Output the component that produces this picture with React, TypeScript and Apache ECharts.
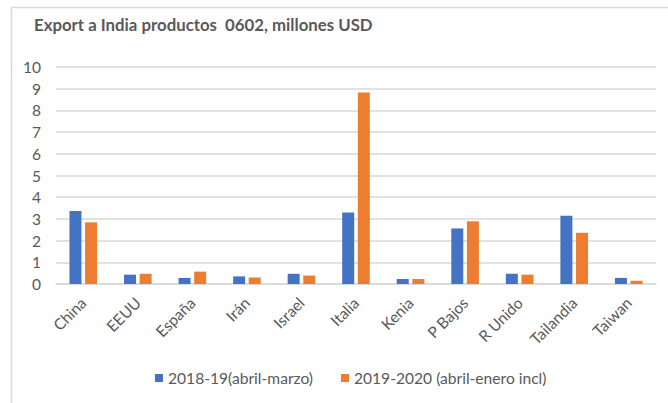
import React, { useEffect, useRef } from "react";
import * as echarts from "echarts";

const categories = ["China", "EEUU", "España", "Irán", "Israel", "Italia", "Kenia", "P Bajos", "R Unido", "Tailandia", "Taiwan"];
const series1Name = "2018-19(abril-marzo)";
const series2Name = "2019-2020 (abril-enero incl)";
const series1 = [3.36, 0.43, 0.28, 0.35, 0.47, 3.29, 0.23, 2.56, 0.47, 3.15, 0.28];
const series2 = [2.84, 0.47, 0.57, 0.3, 0.39, 8.82, 0.23, 2.89, 0.43, 2.36, 0.15];
const yTicks = [0, 10, 1];

const FONT = "Lato, 'Open Sans', sans-serif";
const TXT = "#595959";

export default function App() {
  const ref = useRef<HTMLDivElement>(null);
  useEffect(() => {
    if (!ref.current) return;
    const chart = echarts.init(ref.current, null, { renderer: "svg" });
    chart.setOption({
      animation: false,
      backgroundColor: "#ffffff",
      title: {
        text: "Export a India productos  0602, millones USD",
        left: 29,
        top: 11,
        textStyle: { color: TXT, fontFamily: FONT, fontSize: 16.8, fontWeight: "bold" },
      },
      graphic: [
        { type: "line", shape: { x1: 11.5, y1: 7.5, x2: 668, y2: 7.5 }, style: { stroke: "#d9d9d9", lineWidth: 1.5 } },
        { type: "line", shape: { x1: 11.5, y1: 7.5, x2: 11.5, y2: 403 }, style: { stroke: "#d9d9d9", lineWidth: 1.5 } },
      ],
      grid: { left: 56, right: 12, top: 67, bottom: 119, containLabel: false },
      legend: {
        bottom: 12,
        left: 150,
        itemWidth: 8,
        itemHeight: 8,
        itemGap: 28,
        icon: "rect",
        textStyle: { color: TXT, fontFamily: FONT, fontSize: 15.6 },
        data: [series1Name, series2Name],
      },
      xAxis: {
        type: "category",
        data: categories,
        axisLine: { lineStyle: { color: "#d9d9d9", width: 1.5 } },
        axisTick: { show: false },
        axisLabel: { rotate: 45, color: TXT, fontFamily: FONT, fontSize: 15.5, margin: 16, interval: 0 },
      },
      yAxis: {
        type: "value",
        min: yTicks[0],
        max: yTicks[1],
        interval: yTicks[2],
        axisLine: { show: false },
        axisTick: { show: false },
        splitLine: { lineStyle: { color: "#d9d9d9", width: 1.5 } },
        axisLabel: { color: TXT, fontFamily: FONT, fontSize: 15.5, margin: 15 },
      },
      series: [
        { name: series1Name, type: "bar", data: series1, barWidth: 12, barGap: "30%", itemStyle: { color: "#4472c4" } },
        { name: series2Name, type: "bar", data: series2, barWidth: 12, barGap: "30%", itemStyle: { color: "#ed7d31" } },
      ],
    });
    return () => chart.dispose();
  }, []);
  return <div ref={ref} style={{ position: "absolute", left: 0, top: 0, width: 668, height: 403 }} />;
}
